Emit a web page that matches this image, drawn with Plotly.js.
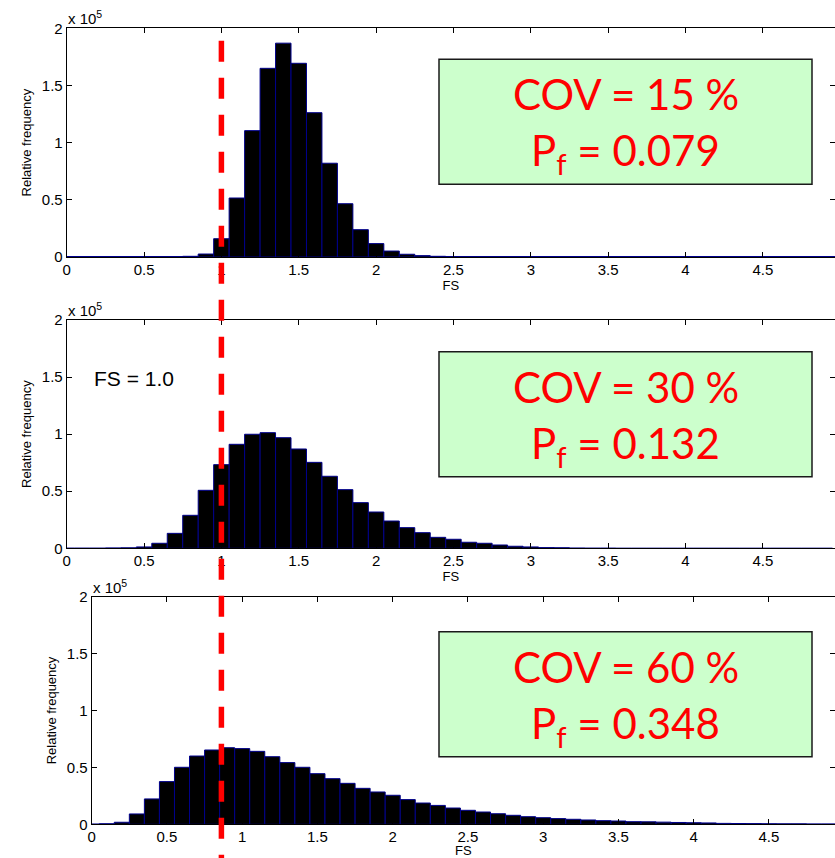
<!DOCTYPE html>
<html><head><meta charset="utf-8">
<script src="https://cdn.plot.ly/plotly-3.0.1.min.js"></script>
<style>html,body{margin:0;padding:0;background:#fff}#chart{width:835px;height:858px}</style>
</head><body><div id="chart"></div>
<script>
// ---- data ----
const FS_BINS = [0.0,0.1,0.2,0.3,0.4,0.5,0.6,0.7,0.8,0.9,
                 1.0,1.1,1.2,1.3,1.4,1.5,1.6,1.7,1.8,1.9,
                 2.0,2.1,2.2,2.3,2.4,2.5,2.6,2.7,2.8,2.9,
                 3.0,3.1,3.2,3.3,3.4,3.5,3.6,3.7,3.8,3.9,
                 4.0,4.1,4.2,4.3,4.4,4.5,4.6,4.7,4.8,4.9];
// relative frequency, in units of 1e5
const FREQ_COV15 = [0,0,0,0,0,0,0.002,0.004,0.006,0.026,
                    0.160,0.516,1.105,1.650,1.870,1.694,1.262,0.820,0.466,0.239,
                    0.117,0.052,0.024,0.012,0.006,0.003,0.002,0.001,0.001,0.0005,
                    0,0,0,0,0,0,0,0,0,0,
                    0,0,0,0,0,0,0,0,0,0];
const FREQ_COV30 = [0.001,0.001,0.001,0.003,0.004,0.012,0.044,0.131,0.289,0.508,
                    0.733,0.911,0.999,1.013,0.969,0.870,0.753,0.631,0.514,0.400,
                    0.318,0.239,0.181,0.137,0.096,0.079,0.053,0.044,0.029,0.018,
                    0.012,0.006,0.005,0.002,0.001,0.001,0,0,0,0,
                    0,0,0,0,0,0,0,0,0,0];
const FREQ_COV60 = [0.002,0.005,0.018,0.091,0.223,0.375,0.501,0.600,0.653,0.673,
                    0.665,0.641,0.594,0.542,0.501,0.445,0.401,0.360,0.316,0.284,
                    0.255,0.217,0.187,0.166,0.143,0.123,0.108,0.093,0.079,0.067,
                    0.058,0.050,0.044,0.038,0.032,0.029,0.023,0.022,0.019,0.016,
                    0.014,0.012,0.008,0.007,0.006,0.005,0.004,0.004,0.003,0.003];
const COV_TEXT = ['COV = 15 %','COV = 30 %','COV = 60 %'];
const PF_VALUES = ['0.079','0.132','0.348'];
const FS_LIMIT = 1.0;
const X_TICKS = [0,0.5,1,1.5,2,2.5,3,3.5,4,4.5];
const X_TICK_TEXT = ['0','0.5','1','1.5','2','2.5','3','3.5','4','4.5'];
const Y_TICKS = [0,0.5,1,1.5,2];
const Y_TICK_TEXT = ['0','0.5','1','1.5','2'];
const Y_TITLE = 'Relative frequency';
const X_TITLE = 'FS';
const FS_NOTE = 'FS = 1.0';
const SCALE_NOTE = 'x 10<sup>5</sup>';

// ---- layout geometry (pixels) ----
const W = 835, H = 858;
const px = p => p / W;
const py = p => 1 - p / H;
const PANELS = [
  {left:66.7, top:28.3, bottom:257.0, ppu:154.7, boxTop:59.3},
  {left:66.7, top:320.0, bottom:548.3, ppu:154.7, boxTop:351.7},
  {left:91.7, top:596.7, bottom:824.3, ppu:150.5, boxTop:631.7}
];
const SERIES = [FREQ_COV15, FREQ_COV30, FREQ_COV60];
const FAMILY = '"Liberation Sans", Arial, sans-serif';
const AX_FONT = {family:FAMILY, size:15, color:'#000'};

const data = [];
const layout = {
  width:W, height:H, margin:{l:0,r:0,t:0,b:0},
  paper_bgcolor:'#fff', plot_bgcolor:'#fff',
  showlegend:false, bargap:0, hovermode:false,
  shapes:[], annotations:[]
};

PANELS.forEach((p,i) => {
  const n = i === 0 ? '' : String(i+1);
  data.push({
    type:'bar', x:FS_BINS, y:SERIES[i], xaxis:'x'+n, yaxis:'y'+n,
    marker:{color:'#000', line:{color:'#00008b', width:1}}
  });
  layout['xaxis'+n] = {
    domain:[px(p.left), 1], range:[0, (W - p.left)/p.ppu], anchor:'y'+n,
    showline:true, linecolor:'#000', linewidth:1, mirror:'ticks',
    ticks:'inside', ticklen:5, tickwidth:1, tickcolor:'#000',
    tickmode:'array', tickvals:X_TICKS, ticktext:X_TICK_TEXT,
    tickfont:AX_FONT, ticklabelstandoff:-1, showgrid:false, zeroline:false,
    title:{text:X_TITLE, font:{family:FAMILY, size:13, color:'#000'}, standoff:0}
  };
  layout['yaxis'+n] = {
    domain:[py(p.bottom), py(p.top)], range:[0,2], anchor:'x'+n,
    showline:true, linecolor:'#000', linewidth:1, mirror:'ticks',
    ticks:'inside', ticklen:5, tickwidth:1, tickcolor:'#000',
    tickmode:'array', tickvals:Y_TICKS, ticktext:Y_TICK_TEXT,
    tickfont:AX_FONT, showgrid:false,
    zeroline:true, zerolinecolor:'#00008b', zerolinewidth:1.5,
    title:{text:Y_TITLE, font:{family:FAMILY, size:13, color:'#000'}}
  };
  // green result box
  layout.shapes.push({
    type:'rect', xref:'paper', yref:'paper', layer:'above',
    x0:px(439), x1:px(812), y0:py(p.boxTop), y1:py(p.boxTop+125),
    fillcolor:'#ccffcc', line:{color:'#1a1a1a', width:1.5}
  });
  const redFont = {family:'Lato, "Open Sans", sans-serif', size:42, color:'#ff0000'};
  layout.annotations.push({
    xref:'paper', yref:'paper', x:px(625.5), y:py(p.boxTop+35), xanchor:'center', yanchor:'middle',
    text:COV_TEXT[i], showarrow:false, font:redFont
  });
  layout.annotations.push({
    xref:'paper', yref:'paper', x:px(625.5), y:py(p.boxTop+94), xanchor:'center', yanchor:'middle',
    text:'P<sub>f</sub> = ' + PF_VALUES[i], showarrow:false, font:redFont
  });
  // x 10^5 multiplier
  layout.annotations.push({
    xref:'paper', yref:'paper', x:px(p.left-1), y:py(p.top+1), xanchor:'left', yanchor:'bottom',
    text:SCALE_NOTE, showarrow:false, font:{family:FAMILY, size:15, color:'#000'}
  });
});

layout.annotations.push({
  xref:'paper', yref:'paper', x:px(92), y:py(378.7), xanchor:'left', yanchor:'middle',
  text:FS_NOTE, showarrow:false, font:{family:FAMILY, size:21, color:'#000'}
});

// dashed limit line across all panels
layout.shapes.push({
  type:'line', xref:'x', yref:'paper', layer:'above',
  x0:FS_LIMIT, x1:FS_LIMIT, y0:py(40.7), y1:0,
  line:{color:'#ff0000', width:5.5, dash:'21px,16px'}
});

Plotly.newPlot('chart', data, layout, {displayModeBar:false, staticPlot:true});
</script>
</body></html>
